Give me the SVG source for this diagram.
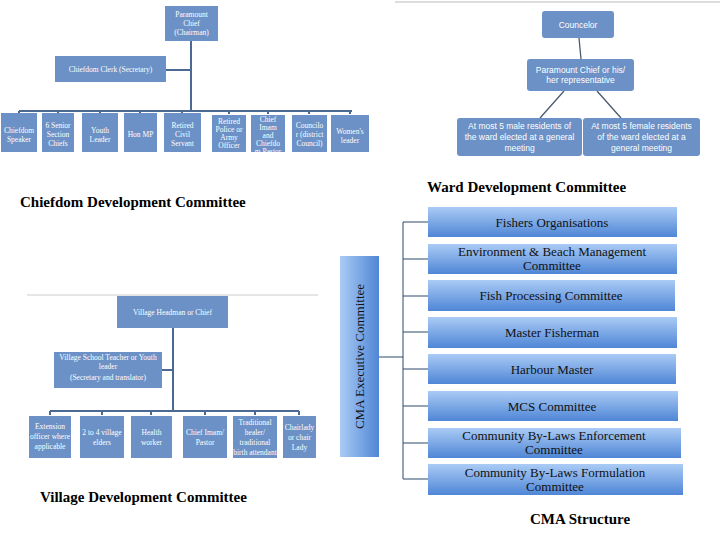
<svg xmlns="http://www.w3.org/2000/svg" width="720" height="540" viewBox="0 0 720 540">
<defs>
<linearGradient id="g" x1="0" y1="0" x2="0" y2="1"><stop offset="0" stop-color="#aacbf5"/><stop offset="1" stop-color="#4f86d6"/></linearGradient>
<linearGradient id="gv" x1="0" y1="0" x2="1" y2="0"><stop offset="0" stop-color="#aacbf5"/><stop offset="1" stop-color="#4f86d6"/></linearGradient>
<style>
.b{fill:#6b91c6}
.t{font-family:"Liberation Serif",serif;font-size:7.5px;fill:#fff;text-anchor:middle}
.w{font-family:"Liberation Sans",sans-serif;font-size:8.5px;fill:#fff;text-anchor:middle}
.c{fill:url(#g)}
.ct{font-family:"Liberation Serif",serif;font-size:13px;fill:#111;text-anchor:middle}
.h{font-family:"Liberation Serif",serif;font-size:15px;font-weight:bold;fill:#000}
.l{stroke:#4a6a94;stroke-width:2;fill:none}
.k{stroke:#2d4a6a;stroke-width:1;fill:none}
</style>
</defs>
<rect width="720" height="540" fill="#fff"/>
<g id="connectors">
<path class="l" d="M191 41V111M166 70H191M19 111H352M19 111v3M58 111v3M100 111v3M140 111v3M182 111v3M229 111v3M268 111v3M309 111v3M350 111v3"/>
<path d="M579 38L581 59M564 91L540 118M597 91L621 118" stroke="#4a5a70" stroke-width="1.3"/>
<path class="l" d="M173 328V411M162 370H173M50 411H299M50 411v4M102 411v4M151 411v4M205 411v4M255 411v4M299 411v4"/>
<path class="k" d="M379 357H403M403 222V479M403 222H428M403 259H428M403 296H428M403 332H428M403 369H428M403 406H428M403 443H428M403 479H428"/>
<line x1="395" y1="2" x2="720" y2="2" stroke="#bbb"/>
<line x1="27" y1="295" x2="318" y2="295" stroke="#ccc"/>
</g>
<g id="chiefdom">
<rect class="b" x="165" y="6" width="53" height="35"/><text class="t" y="17"><tspan x="191.5">Paramount</tspan><tspan x="191.5" dy="9">Chief</tspan><tspan x="191.5" dy="9">(Chairman)</tspan></text>
<rect class="b" x="55" y="56" width="111" height="26"/><text class="t" x="110.5" y="72">Chiefdom Clerk (Secretary)</text>
<rect class="b" x="1" y="113" width="36" height="39"/><text class="t" y="133"><tspan x="19">Chiefdom</tspan><tspan x="19" dy="9">Speaker</tspan></text>
<rect class="b" x="42" y="113" width="32" height="39"/><text class="t" y="128"><tspan x="58">6 Senior</tspan><tspan x="58" dy="9">Section</tspan><tspan x="58" dy="9">Chiefs</tspan></text>
<rect class="b" x="82" y="113" width="36" height="39"/><text class="t" y="133"><tspan x="100">Youth</tspan><tspan x="100" dy="9">Leader</tspan></text>
<rect class="b" x="124" y="113" width="33" height="39"/><text class="t" x="140.5" y="137">Hon MP</text>
<rect class="b" x="164" y="113" width="37" height="39"/><text class="t" y="128"><tspan x="182.5">Retired</tspan><tspan x="182.5" dy="9">Civil</tspan><tspan x="182.5" dy="9">Servant</tspan></text>
<rect class="b" x="212" y="115" width="34" height="37"/><text class="t" y="124"><tspan x="229">Retired</tspan><tspan x="229" dy="8">Police or</tspan><tspan x="229" dy="8">Army</tspan><tspan x="229" dy="8">Officer</tspan></text>
<rect class="b" x="251" y="115" width="34" height="37"/><text class="t" y="122"><tspan x="268">Chief</tspan><tspan x="268" dy="8">Imam</tspan><tspan x="268" dy="8">and</tspan><tspan x="268" dy="8">Chiefdo</tspan><tspan x="268" dy="8">m Pastor</tspan></text>
<rect class="b" x="292" y="115" width="35" height="37"/><text class="t" y="128"><tspan x="309.5">Councilo</tspan><tspan x="309.5" dy="9">r (district</tspan><tspan x="309.5" dy="9">Council)</tspan></text>
<rect class="b" x="331" y="115" width="38" height="37"/><text class="t" y="134"><tspan x="350">Women's</tspan><tspan x="350" dy="9">leader</tspan></text>
<text class="h" x="20" y="207">Chiefdom Development Committee</text>
</g>
<g id="ward">
<rect class="b" x="542" y="11" width="72" height="27" rx="3"/><text class="w" x="578" y="28">Councelor</text>
<rect class="b" x="527" y="59" width="107" height="32" rx="3"/><text class="w" y="73"><tspan x="580.5">Paramount Chief or his/</tspan><tspan x="580.5" dy="10">her representative</tspan></text>
<rect class="b" x="457" y="118" width="125" height="38" rx="3"/><text class="w" y="129"><tspan x="519.5">At most 5 male residents of</tspan><tspan x="519.5" dy="11">the ward elected at a general</tspan><tspan x="519.5" dy="11">meeting</tspan></text>
<rect class="b" x="583" y="118" width="117" height="38" rx="3"/><text class="w" y="129"><tspan x="641.5">At most 5 female residents</tspan><tspan x="641.5" dy="11">of the ward elected at a</tspan><tspan x="641.5" dy="11">general meeting</tspan></text>
<text class="h" x="427" y="192">Ward Development Committee</text>
</g>
<g id="village">
<rect class="b" x="117" y="296" width="111" height="32"/><text class="t" x="172.5" y="315">Village Headman or Chief</text>
<rect class="b" x="54" y="352" width="108" height="36"/><text class="t" y="360"><tspan x="108">Village School Teacher or Youth</tspan><tspan x="108" dy="9">leader</tspan><tspan x="108" dy="11">(Secretary and translator)</tspan></text>
<rect class="b" x="29" y="416" width="42" height="42"/><text class="t" y="429"><tspan x="50">Extension</tspan><tspan x="50" dy="10">officer where</tspan><tspan x="50" dy="10">applicable</tspan></text>
<rect class="b" x="80" y="416" width="44" height="42"/><text class="t" y="435"><tspan x="102">2 to 4 village</tspan><tspan x="102" dy="10">elders</tspan></text>
<rect class="b" x="131" y="416" width="41" height="42"/><text class="t" y="435"><tspan x="151.5">Health</tspan><tspan x="151.5" dy="10">worker</tspan></text>
<rect class="b" x="183" y="416" width="44" height="42"/><text class="t" y="435"><tspan x="205">Chief Imam/</tspan><tspan x="205" dy="10">Pastor</tspan></text>
<rect class="b" x="233" y="416" width="44" height="42"/><text class="t" y="425"><tspan x="255">Traditional</tspan><tspan x="255" dy="10">healer/</tspan><tspan x="255" dy="10">traditional</tspan><tspan x="255" dy="10">birth attendant</tspan></text>
<rect class="b" x="283" y="416" width="33" height="42"/><text class="t" y="430"><tspan x="299.5">Chairlady</tspan><tspan x="299.5" dy="10">or chair</tspan><tspan x="299.5" dy="10">Lady</tspan></text>
<text class="h" x="40" y="502">Village Development Committee</text>
</g>
<g id="cma">
<rect x="340" y="256" width="39" height="201" fill="url(#gv)"/>
<text class="ct" transform="translate(364 356.5) rotate(-90)">CMA Executive Committee</text>
<rect class="c" x="428" y="207" width="249" height="30"/><text class="ct" x="552" y="227">Fishers Organisations</text>
<rect class="c" x="428" y="244" width="249" height="30"/><text class="ct" y="256"><tspan x="552">Environment &amp; Beach Management</tspan><tspan x="552" dy="14">Committee</tspan></text>
<rect class="c" x="428" y="280" width="247" height="31"/><text class="ct" x="551" y="300">Fish Processing Committee</text>
<rect class="c" x="428" y="317" width="249" height="31"/><text class="ct" x="552" y="337">Master Fisherman</text>
<rect class="c" x="428" y="354" width="248" height="30"/><text class="ct" x="552" y="374">Harbour Master</text>
<rect class="c" x="428" y="391" width="250" height="30"/><text class="ct" x="552" y="411">MCS Committee</text>
<rect class="c" x="428" y="428" width="253" height="30"/><text class="ct" y="440"><tspan x="554">Community By-Laws Enforcement</tspan><tspan x="554" dy="14">Committee</tspan></text>
<rect class="c" x="428" y="464" width="255" height="31"/><text class="ct" y="477"><tspan x="555">Community By-Laws Formulation</tspan><tspan x="555" dy="14">Committee</tspan></text>
<text class="h" x="530" y="524">CMA Structure</text>
</g>
</svg>
